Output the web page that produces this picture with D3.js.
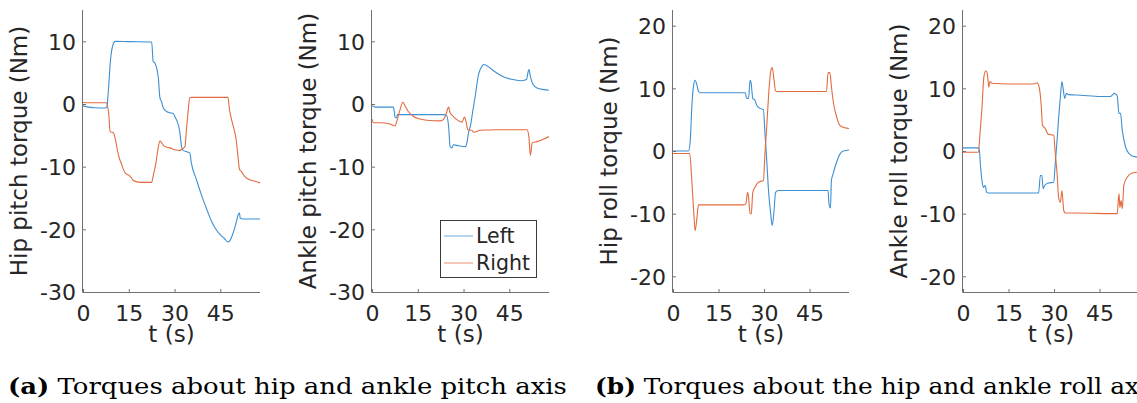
<!DOCTYPE html>
<html><head><meta charset="utf-8">
<script src="https://cdn.jsdelivr.net/npm/d3@7"></script>
<style>
html,body{margin:0;padding:0;background:#fff;}
svg{display:block;}
</style></head>
<body>
<svg id="chart" width="1137" height="403"></svg>
<script>
// ---------- data (t in s, torque in Nm) ----------
const seriesNames = ["Left", "Right"];
const xTicks = [0, 15, 30, 45];
const pitchYTicks = [10, 0, -10, -20, -30];
const rollYTicks = [20, 10, 0, -10, -20];
const pitchYDomain = [-30, 15];
const rollYDomain = [-22.5, 22.5];
const tDomain = [0, 58];

const hipPitchLeft = [[0,-0.3],[1.8,-0.5],[4,-0.6],[7.3,-0.65],[7.8,-0.5],[8.3,2],[9,7],[10,9.7],[10.5,10],[15,9.95],[22.5,9.9],[23,6.8],[23.6,6.5],[24.7,4.1],[25.2,1],[25.7,0.4],[26.3,-0.6],[27.4,-1.2],[28.5,-1.4],[29.6,-1.5],[30.1,-2],[31.2,-3.3],[31.7,-4.4],[32.3,-6.8],[32.8,-7.4],[33.9,-7.6],[35,-7.8],[35.5,-9.4],[37.2,-12.1],[38.8,-14.5],[40.4,-16.6],[42.1,-18.7],[43.7,-20.1],[45.3,-21],[46.4,-21.5],[47.5,-22],[48,-21.9],[48.8,-21.1],[49.7,-19.8],[50.4,-18.5],[50.8,-17.7],[51.3,-17.4],[51.5,-18.2],[52.4,-18.35],[58,-18.35]];
const hipPitchRight = [[0,0.25],[4,0.2],[7.6,0.2],[8.4,-1.4],[8.9,-4.4],[10,-4.6],[10.5,-5.4],[11.6,-8.1],[12.7,-9.7],[13.8,-11],[15.4,-11.5],[16.5,-12.2],[18.7,-12.5],[22.5,-12.5],[23,-11.5],[23.9,-9.4],[24.7,-6.8],[25.2,-5.9],[25.8,-6.2],[26.8,-6.8],[28.5,-7],[30.1,-7.3],[31.7,-7.4],[32.8,-7.1],[33.4,-6.8],[33.9,-4.1],[34.5,-0.9],[35,1],[35.5,1.05],[47.5,1.05],[48,-0.9],[49.1,-3.3],[50.2,-5.7],[50.8,-8.4],[51.3,-10.5],[51.8,-10.7],[52.9,-11.5],[54.6,-12.1],[56.2,-12.3],[58,-12.6]];
const anklePitchLeft = [[0,-0.27],[1,-0.5],[7,-0.5],[7.2,-0.9],[7.6,-2.2],[8.1,-2.2],[8.3,-1.7],[23.4,-1.7],[24.5,-1.9],[25.1,-3.6],[25.6,-6.8],[26.2,-7],[26.7,-6.5],[27.8,-6.6],[30.6,-6.8],[31.1,-6.2],[31.7,-4.4],[32.2,-3.6],[33.1,-0.9],[33.8,1.2],[34.9,4.7],[36,6],[36.6,6.3],[37.7,6.1],[39.3,5.5],[41,4.9],[43.2,4.3],[45.3,4],[48.6,3.7],[50.6,3.9],[51.4,5.5],[51.9,4.4],[52.8,3.1],[54.1,2.55],[56.3,2.3],[58,2.2]];
const anklePitchRight = [[0,-2.4],[0.5,-3],[2.6,-3],[5.9,-3.2],[7.6,-3.5],[8.1,-2.8],[9.2,-0.9],[10.1,0.27],[10.8,-0.27],[11.9,-1.2],[13.6,-2],[15.8,-2.4],[18,-2.6],[22.3,-2.7],[23.4,-2.5],[24.2,-1.7],[25.1,-0.5],[25.6,-1.4],[26.7,-2],[27.8,-2.5],[29.5,-2.9],[30.3,-2.1],[30.9,-3],[31.4,-4.1],[32.7,-4.2],[33.3,-4.5],[35.5,-4.2],[41,-4.1],[50.8,-4.1],[51.4,-5.2],[51.9,-8.2],[52.5,-6.2],[54.1,-6],[56.3,-5.6],[58,-5.2]];
const hipRollLeft = [[0,0],[5.1,0],[5.7,1.7],[6.2,7],[6.8,10.5],[7.3,11.3],[7.9,10.5],[8.4,9.5],[9,9.3],[23.8,9.3],[24.3,8.4],[24.9,8.4],[25.4,11.3],[25.7,11],[26.3,8.4],[27,8.1],[27.6,7.3],[28.7,6.8],[29.8,6.6],[30.3,2.8],[30.9,-1.5],[31.4,-5.8],[32.2,-10],[32.7,-11.9],[33.3,-9.5],[33.8,-6.6],[34.7,-6.3],[51.1,-6.3],[51.4,-8.4],[51.9,-9.1],[52.2,-4.7],[52.8,-3.6],[53.9,-1.8],[55,-0.5],[56.1,0],[58,0.16]];
const hipRollRight = [[0,-0.4],[5.5,-0.4],[6.2,-4.7],[6.8,-9.5],[7.3,-12.7],[7.9,-10.6],[8.4,-8.6],[23.2,-8.6],[24,-8.4],[24.6,-6.6],[24.9,-7.4],[25.4,-10],[25.8,-10],[26.3,-6.6],[27,-5.8],[28.1,-5],[29.8,-4.7],[30.3,-0.4],[30.9,3.9],[31.4,8.1],[32.2,12.7],[32.7,13.3],[33.3,11.3],[33.8,9.6],[34.3,9.5],[50.6,9.5],[51.1,12.5],[51.7,12.5],[52.2,10.3],[52.8,7.9],[53.9,5.5],[55,4.1],[56.6,3.7],[58,3.6]];
const ankleRollLeft = [[0,0.5],[5.3,0.5],[5.8,-2.6],[6.4,-5.2],[6.7,-5.8],[7.3,-5.5],[7.8,-6.6],[8.3,-6.7],[24.9,-6.7],[25.5,-3.9],[26,-3.9],[26.4,-6],[26.9,-5.5],[28.2,-5.1],[29.9,-5],[30.4,-2],[31,1.7],[31.5,5.2],[32.1,8.7],[32.6,11.1],[33.2,9.2],[33.5,8.4],[34.1,9.2],[34.8,9],[38.7,8.9],[45.3,8.7],[48.6,8.7],[49.9,9.2],[50.8,8.8],[51.4,6],[51.9,6],[52.5,3.3],[53.6,0.6],[54.7,-0.4],[55.8,-0.8],[57.6,-1],[58,-1.05]];
const ankleRollRight = [[0,-0.2],[5.1,-0.2],[5.6,2.8],[6.2,6.5],[6.9,11.9],[7.5,12.8],[8,12.4],[8.5,10.2],[8.9,11.1],[9.5,10.8],[15.5,10.7],[23.3,10.7],[24.4,10.9],[25.1,10.2],[25.8,7.1],[26.2,4.1],[27.1,3.6],[28,2.7],[29.9,2.5],[30.4,-0.4],[31,-3.6],[31.5,-7.4],[32.1,-8.2],[32.6,-6.3],[33.2,-9.5],[33.7,-9.9],[37.6,-9.9],[50.8,-10],[51.4,-6.8],[51.7,-9],[52.1,-7.9],[52.5,-9.2],[53,-5.5],[54.1,-4.2],[55.8,-3.5],[57.6,-3.4],[58,-3.4]];

const yLabels = ["Hip pitch torque (Nm)", "Ankle pitch torque (Nm)", "Hip roll torque (Nm)", "Ankle roll torque (Nm)"];
const xLabel = "t (s)";
const captionA = ["(a)", " Torques about hip and ankle pitch axis"];
const captionB = ["(b)", " Torques about the hip and ankle roll axis"];

// ---------- layout ----------
const colors = ["#3c8fd3", "#e36a3e"];
const axisColor = "#707070";
const textColor = "#262626";
const font = "'DejaVu Sans', sans-serif";
const yTop = 10, yBottom = 292;
const tickFs = 22, labelFs = 23, legendFs = 20.5;

const panels = [
  {x0: 83,  x1: 260,  yDom: pitchYDomain, yTicks: pitchYTicks, data: [hipPitchLeft, hipPitchRight], label: yLabels[0]},
  {x0: 372, x1: 549,  yDom: pitchYDomain, yTicks: pitchYTicks, data: [anklePitchLeft, anklePitchRight], label: yLabels[1], legend: true},
  {x0: 673, x1: 849,  yDom: rollYDomain,  yTicks: rollYTicks,  data: [hipRollLeft, hipRollRight], label: yLabels[2]},
  {x0: 963, x1: 1139, yDom: rollYDomain,  yTicks: rollYTicks,  data: [ankleRollLeft, ankleRollRight], label: yLabels[3]}
];

const svg = d3.select("#chart");

panels.forEach((p, i) => {
  const x = d3.scaleLinear().domain(tDomain).range([p.x0, p.x1]);
  const y = d3.scaleLinear().domain(p.yDom).range([yBottom, yTop]);
  const g = svg.append("g");

  const clipId = "clip" + i;
  svg.append("clipPath").attr("id", clipId).append("rect")
    .attr("x", p.x0).attr("y", yTop).attr("width", p.x1 - p.x0).attr("height", yBottom - yTop);

  // lines
  const line = d3.line().x(d => x(d[0])).y(d => y(d[1])).curve(d3.curveMonotoneX);
  p.data.forEach((s, k) => {
    g.append("path").datum(s)
      .attr("d", line)
      .attr("fill", "none")
      .attr("stroke", colors[k])
      .attr("stroke-width", 1.1)
      .attr("stroke-linejoin", "round")
      .attr("clip-path", `url(#${clipId})`);
  });

  // x axis
  const xAxis = d3.axisBottom(x).tickValues(xTicks).tickSizeInner(-3).tickSizeOuter(0);
  const gx = g.append("g").attr("transform", `translate(0,${yBottom})`).call(xAxis);
  gx.select(".domain").attr("stroke", axisColor).attr("d", `M${p.x0},0.5H${p.x1}`);
  gx.selectAll(".tick line").attr("stroke", axisColor);
  gx.selectAll(".tick text").attr("fill", textColor).attr("font-family", font).attr("font-size", tickFs)
    .attr("y", 13).attr("dy", "0.73em");

  // y axis
  const yAxis = d3.axisLeft(y).tickValues(p.yTicks).tickSizeInner(-3).tickSizeOuter(0);
  const gy = g.append("g").attr("transform", `translate(${p.x0},0)`).call(yAxis);
  gy.select(".domain").attr("stroke", axisColor).attr("d", `M-0.5,${yTop}V${yBottom + 0.5}`);
  gy.selectAll(".tick line").attr("stroke", axisColor);
  gy.selectAll(".tick text").attr("fill", textColor).attr("font-family", font).attr("font-size", tickFs)
    .attr("x", -7).attr("dy", "0.36em").text(d => d < 0 ? "-" + Math.abs(d) : d);

  // axis labels
  g.append("text").attr("x", (p.x0 + p.x1) / 2).attr("y", 342)
    .attr("text-anchor", "middle").attr("font-family", font).attr("font-size", labelFs).attr("fill", textColor)
    .text(xLabel);
  g.append("text").attr("transform", `translate(${p.x0 - 56},${(yTop + yBottom) / 2}) rotate(-90)`)
    .attr("text-anchor", "middle").attr("font-family", font).attr("font-size", labelFs).attr("fill", textColor)
    .text(p.label);

  if (p.legend) {
    const lg = g.append("g");
    lg.append("rect").attr("x", 440.5).attr("y", 220.5).attr("width", 96).attr("height", 57)
      .attr("fill", "#fff").attr("stroke", "#3a3a3a").attr("stroke-width", 1);
    seriesNames.forEach((n, k) => {
      const yy = 236 + k * 27;
      lg.append("line").attr("x1", 444).attr("x2", 473).attr("y1", yy).attr("y2", yy)
        .attr("stroke", colors[k]).attr("stroke-width", 1).attr("opacity", 0.75);
      lg.append("text").attr("x", 476).attr("y", yy).attr("dy", "0.36em")
        .attr("font-family", font).attr("font-size", legendFs).attr("fill", textColor).text(n);
    });
  }
});

// captions (serif, scaled horizontally to the reference width)
const capFont = "'DejaVu Serif', 'Liberation Serif', serif";
function caption(xPos, parts, targetWidth) {
  const t = svg.append("text").attr("x", 0).attr("y", 0)
    .attr("font-family", capFont).attr("font-size", 23).attr("fill", "#000");
  t.append("tspan").attr("font-weight", "bold").text(parts[0]);
  t.append("tspan").text(parts[1]);
  const w = t.node().getComputedTextLength();
  const sx = w > 0 ? targetWidth / w : 1;
  t.attr("transform", `translate(${xPos},394) scale(${sx},1)`);
  return t;
}
caption(8, captionA, 559);
caption(595, captionB, 565);
</script>
</body></html>
